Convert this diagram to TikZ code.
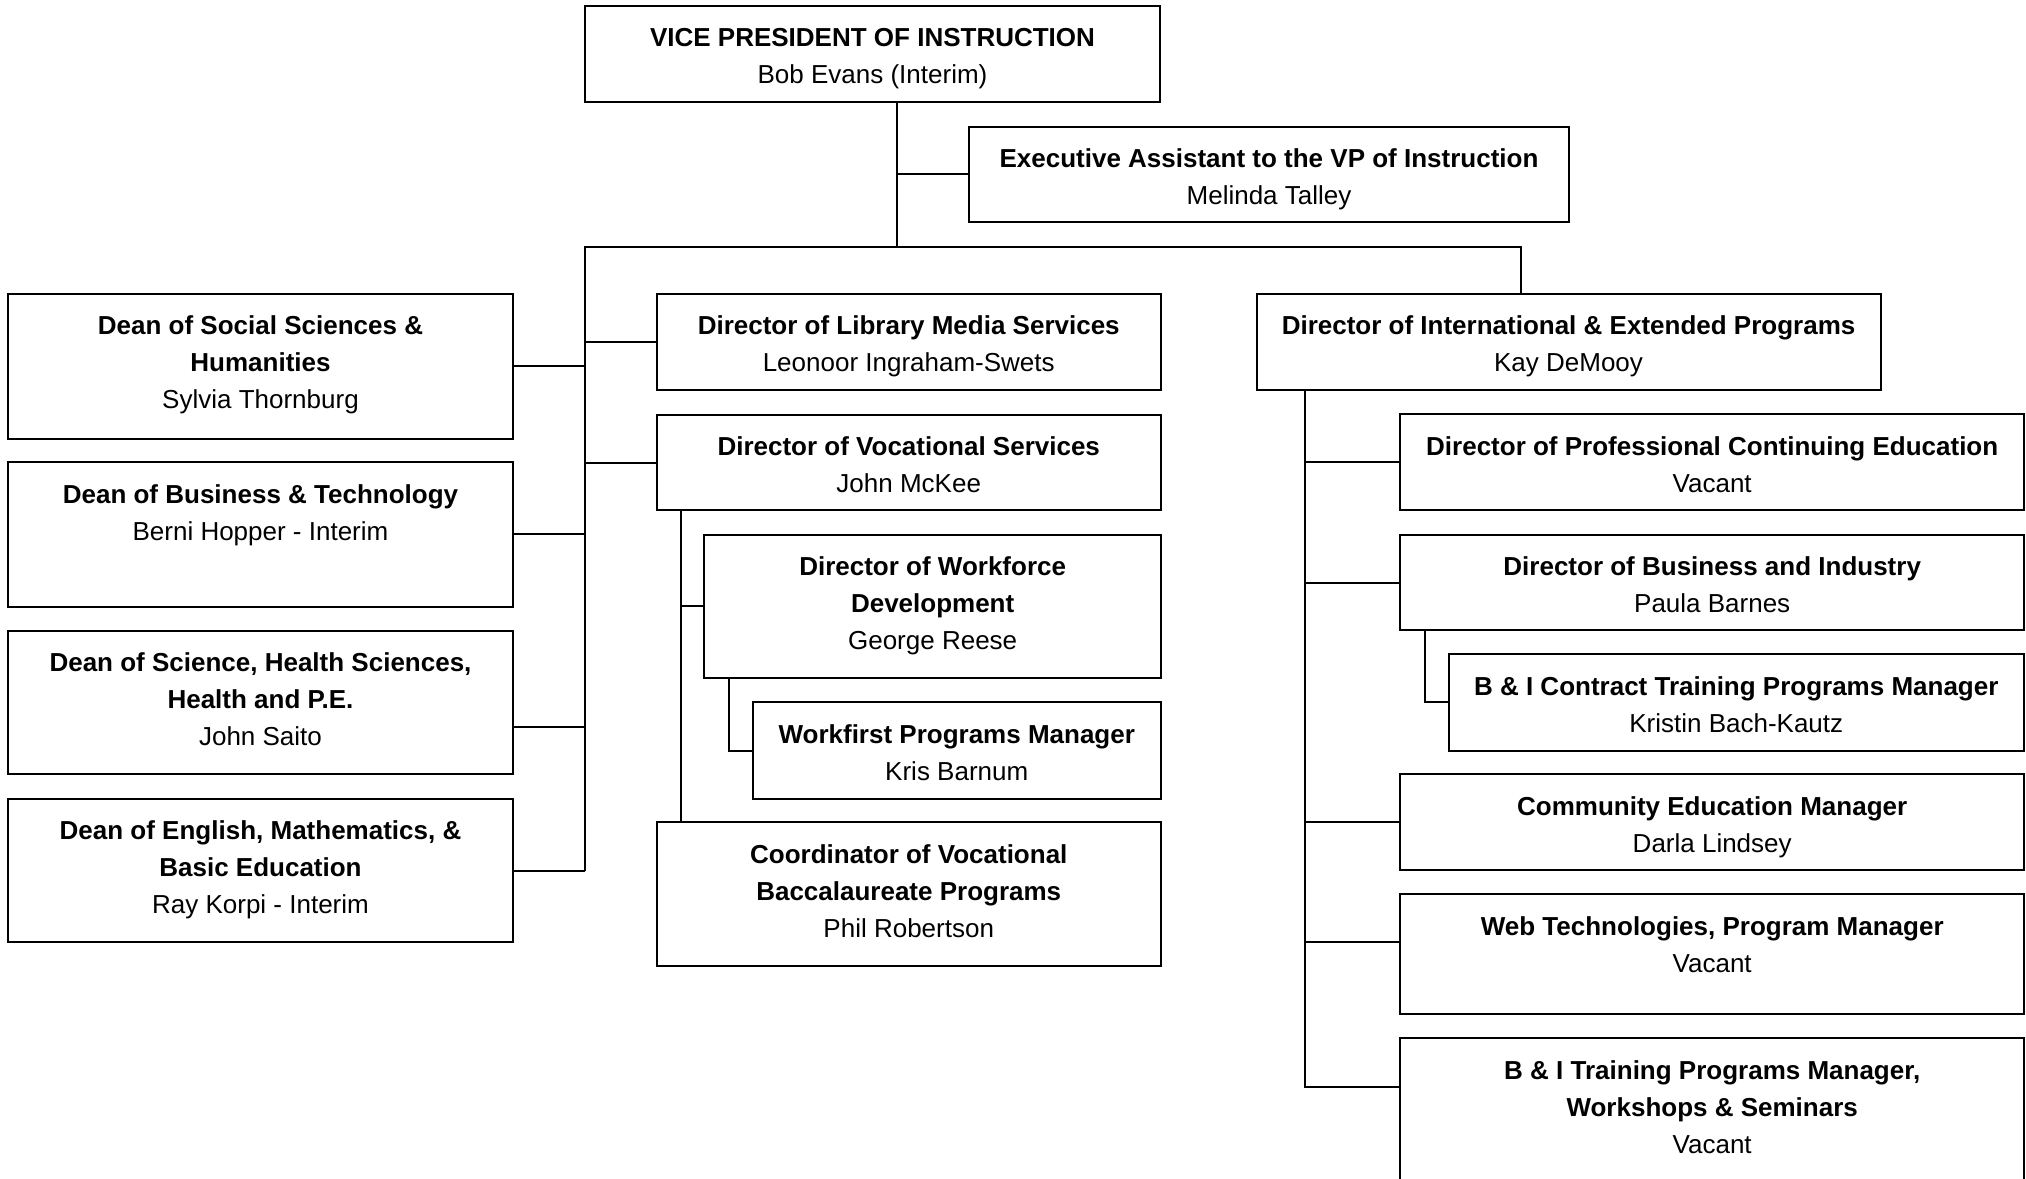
\documentclass[tikz,border=0pt]{standalone}
\usepackage{fontspec}
\setmainfont{Liberation Sans}
\newcommand\topstrut{\rule{0pt}{21pt}}
% \orgpost{name}{x1}{y1}{x2}{y2}{text}: a framed post with its text set from the top
\newcommand\orgpost[6]{%
  \node[unit, minimum width={#4-#2}, minimum height={#5-#3}] (#1) at (#2,#3) {};
  \node[caption] at ([yshift=-19.5pt]#1.north) {\topstrut#6};}
\begin{document}
\begin{tikzpicture}[x=1pt,y=-1pt,
  unit/.style={draw=black, line width=2pt, inner sep=0pt, outer sep=0pt, anchor=north west},
  wire/.style={draw=black, line width=2pt},
  caption/.style={anchor=north, inner sep=0pt, align=center, font=\fontsize{26}{37}\selectfont}]
\useasboundingbox (0,0) rectangle (2026,1178);

% top level
\orgpost{vp}{585}{6}{1160}{102}{\textbf{VICE PRESIDENT OF INSTRUCTION}\\Bob Evans (Interim)}
\orgpost{exec}{969}{126.5}{1569}{222}{\textbf{Executive Assistant to the VP of Instruction}\\Melinda Talley}

% deans
\orgpost{dss}{8}{294}{513}{438.5}{\textbf{Dean of Social Sciences \&}\\\textbf{Humanities}\\Sylvia Thornburg}
\orgpost{dbt}{8}{462.3}{513}{606.5}{\textbf{Dean of Business \& Technology}\\Berni Hopper - Interim}
\orgpost{dsci}{8}{630.7}{513}{774.3}{\textbf{Dean of Science, Health Sciences,}\\\textbf{Health and P.E.}\\John Saito}
\orgpost{deng}{8}{799}{513}{942.3}{\textbf{Dean of English, Mathematics, \&}\\\textbf{Basic Education}\\Ray Korpi - Interim}

% middle column
\orgpost{lib}{656.5}{294}{1161}{390}{\textbf{Director of Library Media Services}\\Leonoor Ingraham-Swets}
\orgpost{voc}{656.5}{414.8}{1161}{510.3}{\textbf{Director of Vocational Services}\\John McKee}
\orgpost{wf}{704.3}{534.5}{1161}{678.2}{\textbf{Director of Workforce}\\\textbf{Development}\\George Reese}
\orgpost{wfirst}{752.5}{702.3}{1161}{798.8}{\textbf{Workfirst Programs Manager}\\Kris Barnum}
\orgpost{coord}{656.5}{822.4}{1161}{966.2}{\textbf{Coordinator of Vocational}\\\textbf{Baccalaureate Programs}\\Phil Robertson}

% international & extended programs
\orgpost{intl}{1256.5}{294}{1880.6}{390}{\textbf{Director of International \& Extended Programs}\\Kay DeMooy}
\orgpost{pce}{1400.4}{414.3}{2024}{510}{\textbf{Director of Professional Continuing Education}\\Vacant}
\orgpost{bi}{1400.4}{535}{2024}{630}{\textbf{Director of Business and Industry}\\Paula Barnes}
\orgpost{bic}{1448.5}{654.3}{2024}{750.5}{\textbf{B \& I Contract Training Programs Manager}\\Kristin Bach-Kautz}
\orgpost{comm}{1400.4}{774.3}{2024}{870}{\textbf{Community Education Manager}\\Darla Lindsey}
\orgpost{web}{1400.4}{894.3}{2024}{1014}{\textbf{Web Technologies, Program Manager}\\Vacant}
\orgpost{train}{1400.4}{1038.3}{2024}{1182}{\textbf{B \& I Training Programs Manager,}\\\textbf{Workshops \& Seminars}\\Vacant}

% bus lines
\coordinate (trunk) at (897,247.3);
\coordinate (busL) at (585,247.3);
\coordinate (busR) at (1520.7,247.3);
\coordinate (vbus) at (681,0);
\coordinate (wbus) at (728.6,0);
\coordinate (ibus) at (1305.2,0);
\coordinate (bbus) at (1424.5,0);

\draw[wire] (vp.south -| trunk) -- (trunk);
\draw[wire] (exec.west) -- (exec.west -| trunk);
\draw[wire] (busL |- deng.east) -- (busL) -- (busR) -- (intl.north -| busR);

\draw[wire] (dss.east) -- (dss.east -| busL);
\draw[wire] (dbt.east) -- (dbt.east -| busL);
\draw[wire] ([yshift=-24.2pt]dsci.east) -- ([yshift=-24.2pt]dsci.east -| busL);
\draw[wire] (deng.east) -- (deng.east -| busL);
\draw[wire] (lib.west) -- (lib.west -| busL);
\draw[wire] (voc.west) -- (voc.west -| busL);

\draw[wire] (voc.south -| vbus) -- (coord.north -| vbus);
\draw[wire] (wf.west) -- (wf.west -| vbus);
\draw[wire] (wf.south -| wbus) |- (wfirst.west);

\draw[wire] (intl.south -| ibus) |- ([yshift=-48.4pt]train.north west);
\draw[wire] (pce.west) -- (pce.west -| ibus);
\draw[wire] (bi.west) -- (bi.west -| ibus);
\draw[wire] (comm.west) -- (comm.west -| ibus);
\draw[wire] ([yshift=-48pt]web.north west) -- ([yshift=-48pt]web.north west -| ibus);
\draw[wire] (bi.south -| bbus) |- (bic.west);
\end{tikzpicture}
\end{document}
